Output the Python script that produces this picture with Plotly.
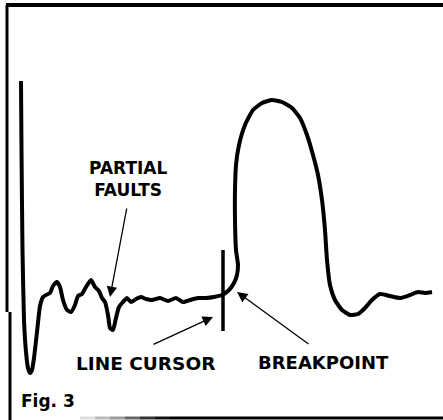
import plotly.graph_objects as go

# TDR trace (horizontal position, vertical deflection; screen units, y grows downward)
trace_x = [21, 21.5, 22.5, 24, 26, 28, 30, 32, 34, 37, 40, 43, 46, 50, 53, 57, 60, 63, 67, 71, 75,
           78, 82, 86, 91, 95, 99, 102, 105, 108, 110, 113, 116, 119, 123, 127, 131, 136, 141,
           146, 152, 160, 168, 176, 183, 190, 198, 206, 214, 222, 229, 234, 237, 238, 236, 235,
           235, 236, 239, 245, 253, 262, 272, 282, 292, 300, 307, 313, 318, 322, 325, 327, 330,
           335, 342, 350, 358, 365, 372, 380, 390, 400, 410, 418, 425, 432]
trace_y = [81, 150, 250, 320, 352, 368, 373, 370, 358, 332, 306, 297, 295, 293, 286, 282, 287, 300,
           310, 312, 305, 296, 294, 287, 280, 287, 291, 298, 302, 315, 328, 330, 318, 307, 302,
           298, 302, 299, 297, 299, 300, 298, 301, 298, 302, 300, 298, 298, 297, 295, 290, 283,
           275, 265, 250, 220, 190, 165, 145, 125, 110, 103, 100, 102, 108, 118, 135, 155, 175,
           200, 230, 260, 285, 300, 310, 315, 314, 308, 300, 294, 296, 298, 295, 292, 293, 292]

cursor_x = [223, 223]
cursor_y = [250, 331]

labels = ["PARTIAL<br>FAULTS", "LINE CURSOR", "BREAKPOINT", "Fig. 3"]
label_x = [128, 145, 323, 48]
label_y = [179, 363, 362, 401]
label_size = [17, 18.5, 18, 17]

arrow_tail_x = [127, 152, 310]
arrow_tail_y = [207, 345, 345]
arrow_head_x = [110, 213, 237]
arrow_head_y = [297, 317, 292]

fig = go.Figure()
fig.add_trace(go.Scatter(x=trace_x, y=trace_y, mode="lines",
                         line=dict(color="black", width=4, shape="spline", smoothing=0.5),
                         hoverinfo="skip"))
fig.add_trace(go.Scatter(x=cursor_x, y=cursor_y, mode="lines",
                         line=dict(color="black", width=3.5), hoverinfo="skip"))

# frame
fig.add_shape(type="line", x0=6, x1=443, y0=5, y1=5, line=dict(color="black", width=4))
fig.add_shape(type="line", x0=7, x1=7, y0=5, y1=312, line=dict(color="black", width=3))
fig.add_shape(type="line", x0=10, x1=10, y0=312, y1=420, line=dict(color="black", width=3))
grad = ["#dddddd", "#bbbbbb", "#999999", "#666666", "#333333", "#111111"]
for i, c in enumerate(grad):
    fig.add_shape(type="line", x0=80 + i * 15, x1=95 + i * 15, y0=418, y1=418,
                  line=dict(color=c, width=3))
fig.add_shape(type="line", x0=170, x1=443, y0=418, y1=418, line=dict(color="black", width=3))

for t, x, y, s in zip(labels, label_x, label_y, label_size):
    fig.add_annotation(x=x, y=y, text="<b>" + t + "</b>", showarrow=False,
                       font=dict(family="DejaVu Sans", size=s, color="black"))

for tx, ty, hx, hy in zip(arrow_tail_x, arrow_tail_y, arrow_head_x, arrow_head_y):
    fig.add_annotation(x=hx, y=hy, ax=tx, ay=ty, axref="x", ayref="y", xref="x", yref="y",
                       text="", showarrow=True, arrowhead=2, arrowsize=1.6, arrowwidth=1.3,
                       arrowcolor="black")

fig.update_layout(width=443, height=420, margin=dict(l=0, r=0, t=0, b=0),
                  paper_bgcolor="white", plot_bgcolor="white", showlegend=False,
                  xaxis=dict(range=[0, 443], visible=False, fixedrange=True),
                  yaxis=dict(range=[420, 0], visible=False, fixedrange=True))
fig.write_html("out.html", config={"displayModeBar": False},
               post_script="document.body.style.margin='0';")
